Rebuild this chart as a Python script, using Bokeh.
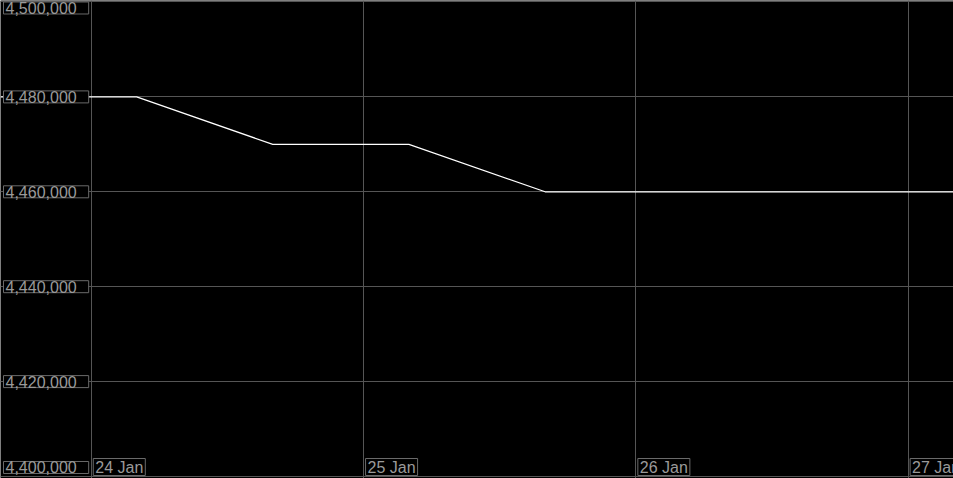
import pandas as pd
from bokeh.plotting import figure
from bokeh.models import Range1d, FixedTicker, Label
from bokeh.embed import file_html
from bokeh.resources import INLINE

# ---- data ----
times = ["2024-01-23 16:00", "2024-01-24 04:00", "2024-01-24 16:00", "2024-01-25 04:00",
         "2024-01-25 16:00", "2024-01-26 04:00", "2024-01-26 16:00", "2024-01-27 04:00"]
values = [4480000, 4480000, 4470000, 4470000, 4460000, 4460000, 4460000, 4460000]

y_ticks = [4400000, 4420000, 4440000, 4460000, 4480000, 4500000]
y_tick_labels = ["4,400,000", "4,420,000", "4,440,000", "4,460,000", "4,480,000", "4,500,000"]
x_tick_days = ["2024-01-24", "2024-01-25", "2024-01-26", "2024-01-27"]
x_tick_labels = ["24 Jan", "25 Jan", "26 Jan", "27 Jan"]

y_min, y_max = 4399578, 4500316

# ---- styles ----
GRID = "#555555"
TXT = "#9a9a9a"
BOX = "#6a6a6a"
FONT = "Liberation Sans"

t = pd.to_datetime(times)
t_ms = [int(x.value // 10**6) for x in t]
xd_ms = [int(pd.Timestamp(d).value // 10**6) for d in x_tick_days]

p = figure(width=953, height=478, x_axis_type="datetime",
           x_axis_location=None, y_axis_location=None,
           x_range=Range1d(t_ms[0], t_ms[-1]), y_range=Range1d(y_min, y_max),
           output_backend="svg", toolbar_location=None, min_border=0)
p.background_fill_color = "black"
p.border_fill_color = "black"
p.outline_line_color = None

p.xgrid.ticker = FixedTicker(ticks=xd_ms)
p.ygrid.ticker = FixedTicker(ticks=y_ticks)
for g in (p.xgrid, p.ygrid):
    g.grid_line_color = GRID
    g.grid_line_width = 1

p.line(t_ms, values, line_color="white", line_width=1.2)

for i, (v, lbl) in enumerate(zip(y_ticks, y_tick_labels)):
    off = 0
    if v == max(y_ticks):
        base = "top"
    elif v == min(y_ticks):
        base = "bottom"
        off = 3
    else:
        base = "middle"
    p.add_layout(Label(x=3, x_units="screen", y=v, y_units="data", y_offset=off, text=lbl,
                       text_font=FONT, text_font_size="16px", text_color=TXT,
                       text_baseline=base, text_align="left",
                       background_fill_color="black", border_line_color=BOX,
                       padding=dict(left=2, right=12, top=0, bottom=0)))

for xm, lbl in zip(xd_ms, x_tick_labels):
    p.add_layout(Label(x=xm, x_units="data", x_offset=2, y=3, y_units="screen", text=lbl,
                       text_font=FONT, text_font_size="16px", text_color=TXT,
                       text_baseline="bottom", text_align="left",
                       background_fill_color="black", border_line_color=BOX,
                       padding=dict(left=2, right=2, top=0, bottom=0)))

open("out.html", "w").write(file_html(p, INLINE))
